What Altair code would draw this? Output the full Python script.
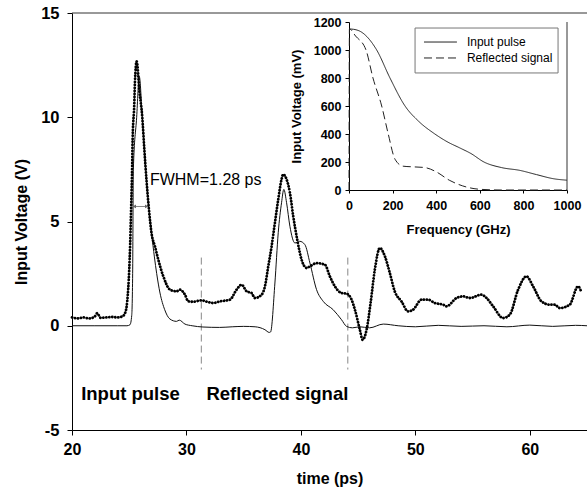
import altair as alt
import pandas as pd

FONT = "Liberation Sans"

# ---- main panel: time domain ----
t_input = [20, 22, 24, 24.8, 25.07, 25.22, 25.3, 25.36, 25.65, 25.88, 26.14, 26.32, 26.52, 26.72,
           26.96, 27.2, 27.4, 27.69, 28.1, 28.56, 29.14, 29.37, 29.87, 30.5, 31.44, 32.9, 34, 35, 36,
           36.86, 37.23, 37.35, 37.73, 38.02, 38.31, 38.51, 38.75, 39.04, 39.48, 39.9, 40.35, 40.79,
           41.37, 41.95, 42.82, 43.55, 43.99, 44.5, 45.15, 46, 47.2, 48.5, 50, 52, 54, 56, 58, 60,
           62, 64, 65]
v_input = [0, 0, 0, 0, 0.05, 0.5, 2.5, 7.5, 10.0, 11.95, 10.0, 8.5, 6.9, 5.6,
           4.4, 3.3, 2.5, 1.57, 0.77, 0.32, 0.21, 0.27, 0.08, 0.0, -0.06, -0.08, -0.05, -0.03, -0.05,
           -0.19, -0.32, -0.3, 2.05, 4.46, 5.9, 6.54, 5.9, 4.77, 3.97, 4.05, 3.89, 3.01,
           1.73, 1.17, 0.77, 0.29, -0.03, -0.1, -0.05, -0.1, 0.08, 0.0, -0.05, 0.02, -0.03, 0.0,
           -0.05, 0.03, -0.03, 0.02, 0.0]

t_meas = [20, 20.5, 21, 21.5, 22, 22.2, 22.5, 23, 23.5, 24, 24.4, 24.63, 24.83, 25.0, 25.08,
          25.15, 25.24, 25.3, 25.44, 25.5, 25.65, 25.9, 26.14, 26.32, 26.52, 26.72, 26.96, 27.25,
          27.54, 27.98, 28.56, 29.14, 29.43, 29.87, 30.16, 30.6, 31.3, 31.8, 32.34, 32.93, 33.8,
          34.38, 34.82, 35.26, 35.69, 35.98, 36.57, 36.86, 37.15, 37.44, 37.73, 38.02, 38.31,
          38.45, 38.75, 39.04, 39.33, 39.68, 40.06, 40.5, 40.79, 41.37, 42.1, 42.53, 42.97, 43.55,
          43.99, 44.43, 44.72, 45.15, 45.39, 45.74, 46.09, 46.46, 46.9, 47.34, 47.77, 48.2, 48.79,
          49.37, 49.8, 50.54, 51.12, 51.7, 52.43, 52.72, 53.6, 54.18, 54.76, 55.78, 56.22, 56.8,
          57.67, 58.25, 58.98, 59.71, 60.29, 61.02, 61.75, 62.18, 62.62, 63.49, 64.22, 64.45]
v_meas = [0.4, 0.35, 0.4, 0.35, 0.45, 0.6, 0.38, 0.4, 0.42, 0.4, 0.45, 0.6, 1.2, 2.7, 3.9,
          5.3, 7.2, 9.0, 10.6, 11.7, 12.68, 11.2, 10.0, 8.46, 6.9, 5.6, 4.4, 3.8,
          3.17, 2.37, 1.73, 1.65, 1.73, 1.49, 1.17, 1.15, 1.22, 1.15, 1.09, 1.17, 1.25,
          1.73, 1.97, 1.65, 1.57, 1.33, 1.49, 1.89, 2.85, 3.81, 4.94, 6.06, 7.02,
          7.26, 7.02, 6.38, 5.26, 4.13, 3.17, 2.77, 2.85, 3.0, 2.93, 2.37, 1.89, 1.57,
          1.54, 1.25, 0.77, -0.19, -0.67, -0.19, 1.09, 2.69, 3.73, 3.33, 2.53, 1.65, 1.17,
          0.69, 0.77, 1.25, 1.25, 1.09, 1.01, 0.93, 1.33, 1.41, 1.33, 1.49, 1.33, 0.93,
          0.37, 0.53, 1.73, 2.37, 1.89, 1.17, 1.01, 1.01, 0.85, 1.01, 1.89, 1.7]

marker_t = [31.3, 44.1]
marker_top = 3.27
marker_bottom = -2.1

labels_text = ["Input pulse", "Reflected signal"]
labels_t = [20.8, 31.75]
labels_v = [-3.27, -3.27]

fwhm_text = "FWHM=1.28 ps"
fwhm_left, fwhm_right, fwhm_level = 25.33, 26.64, 5.72

# ---- inset: frequency domain ----
f_input = [0, 20, 60, 127, 188, 257, 320, 394, 450, 509, 560, 619, 700, 784, 860, 940, 1000]
mv_input = [1150, 1148, 1125, 1000, 800, 600, 490, 400, 345, 300, 260, 200, 160, 140, 110, 80, 70]
f_refl = [0, 2, 30, 78, 110, 150, 180, 211, 248, 300, 349, 400, 460, 520, 601, 700, 1000]
mv_refl = [0, 1150, 1100, 1000, 800, 600, 400, 220, 170, 165, 160, 130, 70, 30, 5, 0, 0]
series_names = ["Input pulse", "Reflected signal"]

# legend box (inset coordinates)
leg_f = [303, 959]
leg_m = [836, 1157]
leg_sym_f = [344, 495]
leg_row_m = [1057, 943]
leg_text_f = 541

# ---------------- build ----------------
W, H = 515, 417
xs = alt.Scale(domain=[20, 65], nice=False, zero=False)
ys = alt.Scale(domain=[-5, 15], nice=False, zero=False)
LBL = "'' + datum.value"

xaxis = alt.Axis(values=[20, 30, 40, 50, 60], title="time (ps)", orient="bottom", grid=False,
                 labelFont=FONT, labelFontSize=16, labelFontWeight="bold", labelColor="black",
                 titleFont=FONT, titleFontSize=16, titleFontWeight="bold", titleColor="black",
                 tickSize=5, tickColor="black", domainColor="black", labelPadding=6, titlePadding=13,
                 labelFlush=False, labelExpr=LBL)
yaxis = alt.Axis(values=[-5, 0, 5, 10, 15], title="Input Voltage (V)", orient="left", grid=False,
                 labelFont=FONT, labelFontSize=16.5, labelFontWeight="bold", labelColor="black",
                 titleFont=FONT, titleFontSize=16, titleFontWeight="bold", titleColor="black",
                 tickSize=5, tickColor="black", domainColor="black", labelPadding=8, titlePadding=11,
                 labelFlush=False, labelExpr=LBL)

df_in = pd.DataFrame({"t": t_input, "v": v_input})
df_me = pd.DataFrame({"t": t_meas, "v": v_meas})

solid = alt.Chart(df_in).mark_line(color="#111", strokeWidth=1, interpolate="monotone").encode(
    x=alt.X("t:Q", scale=xs, axis=xaxis), y=alt.Y("v:Q", scale=ys, axis=yaxis))
dots_thin = alt.Chart(df_me).mark_line(color="#444", strokeWidth=0.7, strokeDash=[1, 2],
                                       interpolate="monotone").encode(
    x=alt.X("t:Q", scale=xs), y=alt.Y("v:Q", scale=ys))
dots = alt.Chart(df_me).mark_line(color="black", strokeWidth=2.8, strokeDash=[0.1, 2.9],
                                  strokeCap="round", interpolate="monotone").encode(
    x=alt.X("t:Q", scale=xs), y=alt.Y("v:Q", scale=ys))

df_mark = pd.DataFrame({"t": marker_t, "a": [marker_top] * 2, "b": [marker_bottom] * 2})
markers = alt.Chart(df_mark).mark_rule(color="#888", strokeWidth=1, strokeDash=[7, 4]).encode(
    x=alt.X("t:Q", scale=xs), y=alt.Y("a:Q", scale=ys), y2="b:Q")

df_lab = pd.DataFrame({"t": labels_t, "v": labels_v, "s": labels_text})
labels = alt.Chart(df_lab).mark_text(align="left", baseline="middle", font=FONT, fontSize=18.5,
                                     fontWeight="bold", color="black").encode(
    x=alt.X("t:Q", scale=xs), y=alt.Y("v:Q", scale=ys), text="s:N")

df_fw = pd.DataFrame({"t": [26.81], "v": [7.0], "s": [fwhm_text]})
fw_text = alt.Chart(df_fw).mark_text(align="left", baseline="middle", font=FONT, fontSize=16,
                                     color="black").encode(
    x=alt.X("t:Q", scale=xs), y=alt.Y("v:Q", scale=ys), text="s:N")
df_arr = pd.DataFrame({"a": [fwhm_left], "b": [fwhm_right], "v": [fwhm_level]})
fw_rule = alt.Chart(df_arr).mark_rule(color="#666", strokeWidth=0.8).encode(
    x=alt.X("a:Q", scale=xs), x2="b:Q", y=alt.Y("v:Q", scale=ys))
df_heads = pd.DataFrame({"t": [fwhm_left + 0.12, fwhm_right - 0.12], "v": [fwhm_level] * 2,
                         "shape": ["triangle-left", "triangle-right"]})
fw_heads = alt.Chart(df_heads).mark_point(filled=True, color="#666", size=14, opacity=1).encode(
    x=alt.X("t:Q", scale=xs), y=alt.Y("v:Q", scale=ys),
    shape=alt.Shape("shape:N", scale=None, legend=None))

df_top = pd.DataFrame({"a": [20], "b": [65], "v": [15]})
top_line = alt.Chart(df_top).mark_rule(color="#333", strokeWidth=1).encode(
    x=alt.X("a:Q", scale=xs), x2="b:Q", y=alt.Y("v:Q", scale=ys))

main = alt.layer(top_line, markers, solid, dots_thin, dots, labels, fw_text, fw_rule, fw_heads)

# inset scales in pixels of the plot area
fs = alt.Scale(domain=[0, 1000], range=[277, 495], nice=False, zero=False)
ms = alt.Scale(domain=[0, 1200], range=[177, 9], nice=False, zero=False)

fax = alt.Axis(values=[0, 200, 400, 600, 800, 1000], title="Frequency (GHz)", orient="bottom",
               offset=-240, grid=False, labelFont=FONT, labelFontSize=12.5, labelFontWeight="bold",
               labelColor="black", titleFont=FONT, titleFontSize=13, titleFontWeight="bold",
               titleColor="black", tickSize=3, tickColor="black", domainColor="black",
               labelPadding=6, titlePadding=12, labelFlush=False, labelExpr=LBL)
max_ = alt.Axis(values=[0, 200, 400, 600, 800, 1000, 1200], title="Input Voltage (mV)",
                orient="left", offset=-277, grid=False, labelFont=FONT, labelFontSize=12.5,
                labelFontWeight="bold", labelColor="black", titleFont=FONT, titleFontSize=13,
                titleFontWeight="bold", titleColor="black", tickSize=4, tickColor="black",
                domainColor="black", labelPadding=4, titlePadding=10, labelFlush=False,
                labelExpr=LBL)

rows = []
for i, (f, m) in enumerate(zip(f_input, mv_input)):
    rows.append({"f": f, "m": m, "s": series_names[0], "i": i})
for i, (f, m) in enumerate(zip(f_refl, mv_refl)):
    rows.append({"f": f, "m": m, "s": series_names[1], "i": i})
df_spec = pd.DataFrame(rows)

dash_scale = alt.Scale(domain=series_names, range=[[1, 0], [8, 4]])
spec_lines = alt.Chart(df_spec).mark_line(color="#222", strokeWidth=1,
                                          interpolate="monotone").encode(
    x=alt.X("f:Q", scale=fs, axis=fax),
    y=alt.Y("m:Q", scale=ms, axis=max_),
    detail="s:N",
    order="i:Q",
    strokeDash=alt.StrokeDash("s:N", scale=dash_scale, legend=None),
)
df_rb = pd.DataFrame({"f": [1000], "a": [0], "b": [1200]})
inset_right = alt.Chart(df_rb).mark_rule(color="#333", strokeWidth=1).encode(
    x=alt.X("f:Q", scale=fs), y=alt.Y("a:Q", scale=ms), y2="b:Q")

df_box = pd.DataFrame({"a": [leg_f[0]], "b": [leg_f[1]], "c": [leg_m[0]], "d": [leg_m[1]]})
leg_box = alt.Chart(df_box).mark_rect(fill="white", stroke="#777", strokeWidth=1).encode(
    x=alt.X("a:Q", scale=fs), x2="b:Q", y=alt.Y("c:Q", scale=ms), y2="d:Q")
df_sym = pd.DataFrame({"a": [leg_sym_f[0]] * 2, "b": [leg_sym_f[1]] * 2, "m": leg_row_m,
                       "s": series_names})
leg_sym = alt.Chart(df_sym).mark_rule(color="#222", strokeWidth=1).encode(
    x=alt.X("a:Q", scale=fs), x2="b:Q", y=alt.Y("m:Q", scale=ms),
    strokeDash=alt.StrokeDash("s:N", scale=dash_scale, legend=None))
df_lt = pd.DataFrame({"f": [leg_text_f] * 2, "m": leg_row_m, "s": series_names})
leg_txt = alt.Chart(df_lt).mark_text(align="left", baseline="middle", font=FONT, fontSize=12,
                                     color="black").encode(
    x=alt.X("f:Q", scale=fs), y=alt.Y("m:Q", scale=ms), text="s:N")

inset = alt.layer(spec_lines, inset_right, leg_box, leg_sym, leg_txt)

chart = alt.layer(main, inset).resolve_scale(x="independent", y="independent",
                                             strokeDash="shared").properties(
    width=W, height=H,
    autosize=alt.AutoSizeParams(type="none"),
    padding={"left": 72, "top": 13, "right": 0, "bottom": 66},
    background="white",
).configure_view(stroke=None)

chart.save("out.html", embed_options={"renderer": "svg", "actions": False})
